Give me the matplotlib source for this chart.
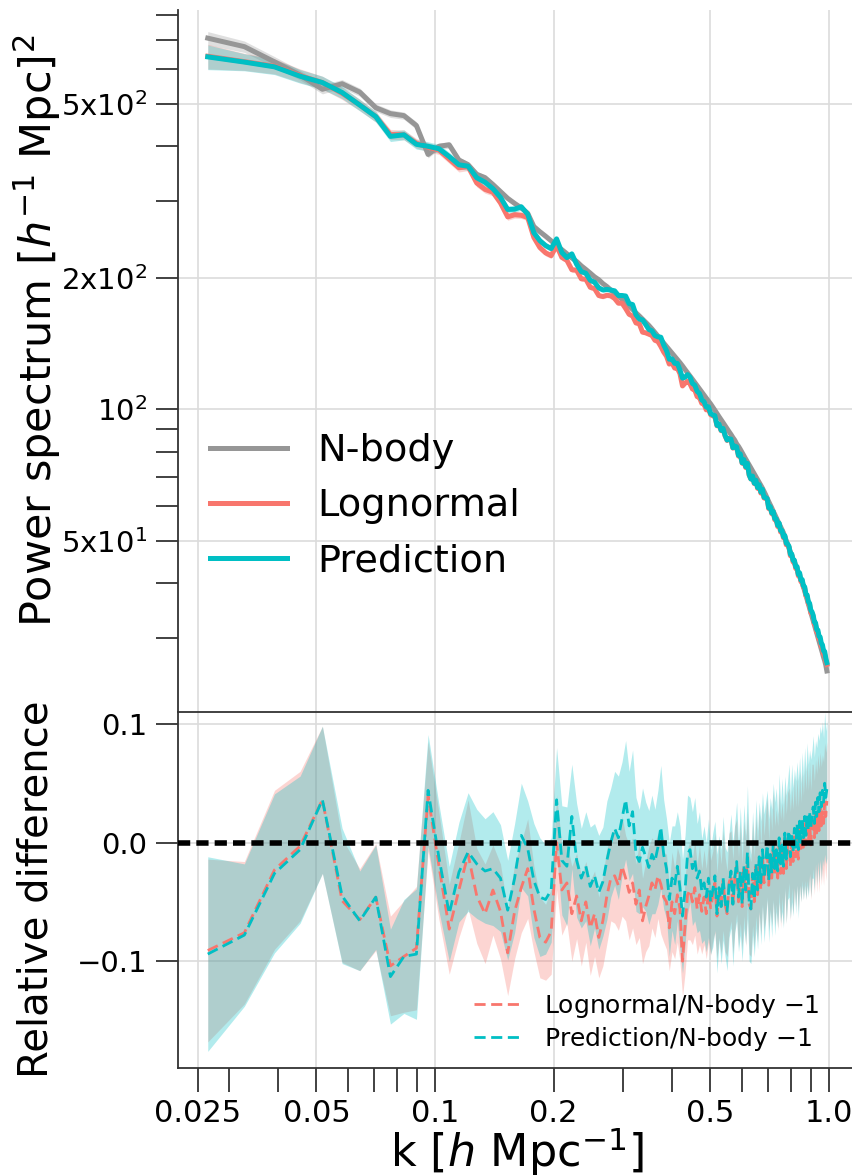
import numpy as np
import matplotlib
matplotlib.use("Agg")
import matplotlib.pyplot as plt
from matplotlib.ticker import FixedLocator, NullFormatter

# ---------------------------------------------------------------------------
# Data: power spectra in linear k bins and relative differences to N-body
# ---------------------------------------------------------------------------
K0, DK = 0.0265, 0.00632          # first bin centre and bin width [h/Mpc]

p_nbody = [
    707, 676, 624, 582, 540, 556, 532, 490, 475, 470, 446, 383, 400, 403, 372,
    363, 345, 339, 327, 315, 304, 296, 289, 281, 262,
    255, 249, 243, 237, 232, 227, 222, 218, 213, 209, 205, 201, 198, 194, 191,
    187.5, 184.5, 181.5, 178.6,
    175.4, 172.2, 169.3, 166.3, 163.6, 160.8, 158.2, 155.6, 152.8, 149.9,
    147.1, 144.4, 141.8, 139.3, 136.8, 134.5, 132.2, 130.0, 127.9, 125.7,
    123.4, 121.3, 119.2, 117.2, 115.2, 113.3, 111.4, 109.6, 107.8, 106.1,
    104.5, 102.9, 101.2, 99.5, 97.8, 96.2, 94.7, 93.2, 91.7, 90.3,
    88.9, 87.6, 86.2, 85.0,
    83.4, 82.3, 81.0, 79.6, 78.3, 77.0, 75.8, 74.6, 73.4, 72.3,
    71.2, 70.1, 69.0, 68.0, 67.0, 66.0,
    64.9, 63.8, 62.6, 61.5, 60.5, 59.5, 58.4, 57.5, 56.5, 55.6, 54.7, 53.8, 52.9,
    52.2, 51.0, 50.1, 49.1, 48.1, 47.2, 46.3, 45.5, 44.6, 43.8, 43.0, 42.2,
    41.5, 40.7, 40.0,
    39.3, 38.4, 37.5, 36.7, 35.9, 35.1, 34.3, 33.6, 32.8, 32.1, 31.4, 30.7,
    30.1, 29.5, 28.9, 28.3, 27.7, 27.1, 26.6, 26.0, 25.2,
]

# Prediction / N-body - 1
ratio_pred = [
    -0.094, -0.078, -0.026, -0.006, 0.036, -0.045, -0.066, -0.046, -0.113, -0.096,
    -0.094, 0.044, -0.013, -0.060, -0.025, -0.008,
    -0.018, -0.024, -0.022, -0.030, -0.057, -0.030, 0.006, -0.005, -0.032, -0.046, -0.048, -0.040,
    0.036, -0.015, -0.020, 0.022, -0.015, -0.030, -0.020, -0.037, -0.028, -0.042, -0.033, -0.015,
    0.000, 0.012, 0.004, 0.020, 0.036, 0.014, 0.026, -0.010, -0.016, -0.004, -0.012, -0.021,
    -0.010, -0.016, -0.004, 0.013, -0.010, -0.022, -0.048, -0.030, -0.036, -0.020, -0.038, -0.062,
    -0.040, -0.010, -0.006, -0.022, -0.014, -0.030, -0.024, -0.041, -0.034, -0.046, -0.030, -0.050,
    -0.040, -0.028, -0.060, -0.038, -0.054, -0.030, -0.050, -0.058, -0.036, -0.024, -0.052, -0.030,
    -0.016, -0.046, -0.024, -0.052, -0.020, -0.040, -0.008, -0.050, -0.056, -0.026, -0.048, -0.018,
    -0.040, -0.012, -0.034, -0.006, -0.030, -0.016, -0.002, -0.032, -0.010, -0.026, 0.000, -0.022,
    -0.006, -0.024, 0.004, -0.018, -0.002, -0.020, 0.008, -0.014, 0.002, 0.010, -0.012, 0.008,
    -0.008, 0.012, -0.004, 0.016, -0.006, 0.018, 0.000, 0.020, 0.004, 0.022, 0.006, 0.024,
    0.010, 0.026, 0.012, 0.024, 0.030, 0.016, 0.034, 0.022, 0.038, 0.026, 0.042, 0.030,
    0.044, 0.034, 0.050, 0.038, 0.045,
]

# Lognormal / N-body - 1
ratio_logn = [
    -0.091, -0.076, -0.023, -0.003, 0.036, -0.049, -0.065, -0.046, -0.104, -0.096,
    -0.089, 0.039, -0.020, -0.073, -0.040, -0.010,
    -0.045, -0.060, -0.040, -0.058, -0.093, -0.058, -0.038, -0.022, -0.056, -0.080, -0.084, -0.075,
    0.000, -0.040, -0.034, -0.060, -0.045, -0.066, -0.050, -0.072, -0.060, -0.080, -0.066, -0.045,
    -0.030, -0.028, -0.036, -0.020, -0.030, -0.042, -0.034, -0.052, -0.040, -0.066, -0.054, -0.045,
    -0.034, -0.040, -0.028, -0.035, -0.046, -0.050, -0.072, -0.050, -0.060, -0.044, -0.056, -0.100,
    -0.070, -0.044, -0.040, -0.050, -0.038, -0.056, -0.044, -0.058, -0.046, -0.060, -0.042, -0.055,
    -0.045, -0.034, -0.062, -0.040, -0.056, -0.032, -0.052, -0.060, -0.034, -0.028, -0.054, -0.030,
    -0.020, -0.050, -0.026, -0.054, -0.022, -0.044, -0.012, -0.052, -0.056, -0.026, -0.050, -0.020,
    -0.044, -0.016, -0.040, -0.010, -0.034, -0.020, -0.004, -0.036, -0.012, -0.030, -0.002, -0.028,
    -0.012, -0.030, 0.000, -0.026, -0.006, -0.026, 0.004, -0.022, -0.002, 0.006, -0.020, 0.004,
    -0.016, 0.008, -0.012, 0.010, -0.014, 0.012, -0.008, 0.014, -0.004, 0.016, -0.002, 0.018,
    0.000, 0.020, -0.002, 0.016, 0.022, 0.004, 0.024, 0.008, 0.026, 0.010, 0.030, 0.014,
    0.026, 0.016, 0.034, 0.022, 0.035,
]

# 1-sigma scatter of the ratios
sigma_pred = [
    0.082, 0.060, 0.067, 0.062, 0.062, 0.057, 0.042, 0.044, 0.040, 0.048,
    0.055, 0.047, 0.045, 0.040, 0.042, 0.050,
    0.046, 0.044, 0.048, 0.045, 0.042, 0.046, 0.044, 0.040, 0.048, 0.050, 0.046, 0.044,
    0.044, 0.046, 0.050, 0.044, 0.048, 0.042, 0.046, 0.050, 0.044, 0.048, 0.046, 0.050,
    0.046, 0.048, 0.052, 0.048, 0.050, 0.046, 0.052, 0.048, 0.044, 0.050, 0.046, 0.048,
    0.050, 0.044, 0.048, 0.052, 0.046, 0.042, 0.048, 0.044, 0.050, 0.046, 0.052, 0.048,
    0.046, 0.050, 0.044, 0.048, 0.052, 0.046, 0.050, 0.044, 0.048, 0.046, 0.050, 0.044,
    0.048, 0.046, 0.050, 0.044, 0.048, 0.052, 0.046, 0.050, 0.044, 0.048, 0.052, 0.046,
    0.050, 0.046, 0.054, 0.048, 0.052, 0.046, 0.056, 0.050, 0.046, 0.052, 0.048, 0.054,
    0.050, 0.046, 0.052, 0.048, 0.054, 0.050, 0.046, 0.052, 0.048, 0.054, 0.050, 0.056,
    0.052, 0.048, 0.054, 0.050, 0.056, 0.052, 0.048, 0.054, 0.050, 0.056, 0.052, 0.058,
    0.054, 0.050, 0.056, 0.052, 0.058, 0.054, 0.050, 0.056, 0.052, 0.058, 0.054, 0.060,
    0.056, 0.052, 0.058, 0.054, 0.060, 0.056, 0.052, 0.058, 0.054, 0.060, 0.056, 0.062,
    0.058, 0.054, 0.060, 0.056, 0.058,
]

sigma_logn = [
    0.077, 0.060, 0.067, 0.063, 0.062, 0.052, 0.043, 0.045, 0.042, 0.047,
    0.052, 0.046, 0.045, 0.038, 0.040, 0.046,
    0.040, 0.042, 0.038, 0.040, 0.036, 0.040, 0.038, 0.042, 0.036, 0.034, 0.032, 0.036,
    0.040, 0.038, 0.034, 0.040, 0.036, 0.038, 0.034, 0.040, 0.036, 0.034, 0.038, 0.040,
    0.036, 0.040, 0.038, 0.042, 0.036, 0.040, 0.038, 0.034, 0.040, 0.036, 0.038, 0.042,
    0.038, 0.040, 0.036, 0.042, 0.038, 0.040, 0.036, 0.042, 0.038, 0.040, 0.044, 0.030,
    0.040, 0.038, 0.042, 0.036, 0.040, 0.038, 0.042, 0.036, 0.040, 0.038, 0.042, 0.040,
    0.038, 0.042, 0.036, 0.040, 0.038, 0.042, 0.040, 0.036, 0.042, 0.038, 0.040, 0.044,
    0.040, 0.038, 0.042, 0.036, 0.040, 0.044, 0.038, 0.042, 0.040, 0.044, 0.038, 0.042,
    0.040, 0.044, 0.038, 0.042, 0.040, 0.044, 0.042, 0.038, 0.044, 0.040, 0.046, 0.042,
    0.040, 0.044, 0.042, 0.046, 0.040, 0.044, 0.042, 0.046, 0.044, 0.040, 0.046, 0.042,
    0.044, 0.048, 0.042, 0.046, 0.044, 0.048, 0.042, 0.046, 0.044, 0.048, 0.046, 0.050,
    0.044, 0.048, 0.046, 0.050, 0.044, 0.048, 0.046, 0.050, 0.048, 0.052, 0.046, 0.050,
    0.048, 0.052, 0.050, 0.054, 0.050,
]

# Fractional scatter of the spectra themselves (upper panel bands)
frac_err_nbody = [
    0.035, 0.030, 0.028, 0.025, 0.024, 0.022, 0.021, 0.020, 0.020, 0.019,
    0.020, 0.018, 0.017, 0.017, 0.016, 0.016,
    0.015, 0.015, 0.014, 0.014, 0.014, 0.013, 0.013, 0.013, 0.012, 0.012, 0.012, 0.012,
    0.011, 0.011, 0.011, 0.011, 0.011, 0.010, 0.010, 0.010, 0.010, 0.010, 0.010, 0.009,
    0.009, 0.009, 0.009, 0.009, 0.009, 0.009, 0.009, 0.008, 0.008, 0.008, 0.008, 0.008,
    0.008, 0.008, 0.008, 0.008, 0.008, 0.008, 0.007, 0.007, 0.007, 0.007, 0.007, 0.007,
    0.007, 0.007, 0.007, 0.007, 0.007, 0.007, 0.007, 0.007, 0.007, 0.007, 0.006, 0.006,
    0.006, 0.006, 0.006, 0.006, 0.006, 0.006, 0.006, 0.006, 0.006, 0.006, 0.006, 0.006,
    0.006, 0.006, 0.006, 0.006, 0.006, 0.006, 0.006, 0.006, 0.006, 0.006, 0.006, 0.006,
    0.006, 0.006, 0.006, 0.006, 0.006, 0.006, 0.005, 0.005, 0.005, 0.005, 0.005, 0.005,
    0.005, 0.005, 0.005, 0.005, 0.005, 0.005, 0.005, 0.005, 0.005, 0.005, 0.005, 0.005,
    0.005, 0.005, 0.005, 0.005, 0.005, 0.005, 0.005, 0.005, 0.005, 0.005, 0.005, 0.005,
    0.005, 0.005, 0.005, 0.005, 0.005, 0.005, 0.005, 0.005, 0.005, 0.005, 0.005, 0.005,
    0.005, 0.005, 0.005, 0.005, 0.005,
]

frac_err_model = [
    0.065, 0.045, 0.040, 0.036, 0.034, 0.032, 0.030, 0.028, 0.027, 0.026,
    0.025, 0.024, 0.023, 0.022, 0.022, 0.021,
    0.020, 0.020, 0.019, 0.019, 0.018, 0.018, 0.017, 0.017, 0.016, 0.016, 0.016, 0.015,
    0.015, 0.015, 0.014, 0.014, 0.014, 0.013, 0.013, 0.013, 0.013, 0.012, 0.012, 0.012,
    0.012, 0.012, 0.011, 0.011, 0.011, 0.011, 0.011, 0.011, 0.010, 0.010, 0.010, 0.010,
    0.010, 0.010, 0.010, 0.010, 0.009, 0.009, 0.009, 0.009, 0.009, 0.009, 0.009, 0.009,
    0.009, 0.009, 0.009, 0.009, 0.008, 0.008, 0.008, 0.008, 0.008, 0.008, 0.008, 0.008,
    0.008, 0.008, 0.008, 0.008, 0.008, 0.008, 0.008, 0.008, 0.008, 0.008, 0.008, 0.008,
    0.008, 0.008, 0.008, 0.008, 0.008, 0.008, 0.008, 0.008, 0.008, 0.008, 0.008, 0.008,
    0.008, 0.008, 0.008, 0.008, 0.008, 0.008, 0.008, 0.008, 0.008, 0.008, 0.008, 0.008,
    0.008, 0.008, 0.008, 0.008, 0.008, 0.008, 0.008, 0.008, 0.008, 0.008, 0.008, 0.008,
    0.008, 0.008, 0.008, 0.008, 0.008, 0.008, 0.008, 0.008, 0.008, 0.008, 0.008, 0.008,
    0.008, 0.008, 0.008, 0.008, 0.008, 0.008, 0.008, 0.008, 0.008, 0.008, 0.008, 0.008,
    0.008, 0.008, 0.008, 0.008, 0.008,
]

series_labels = ["N-body", "Lognormal", "Prediction"]
ratio_labels = ["Lognormal/N-body $-1$", "Prediction/N-body $-1$"]

x_major_ticks = [0.025, 0.05, 0.1, 0.2, 0.5, 1.0]
x_major_labels = ["0.025", "0.05", "0.1", "0.2", "0.5", "1.0"]
x_minor_ticks = [0.03, 0.04, 0.06, 0.07, 0.08, 0.09, 0.3, 0.4, 0.6, 0.7, 0.8, 0.9]
y_major_ticks = [50, 100, 200, 500]
y_major_labels = ["5x$10^1$", "$10^2$", "2x$10^2$", "5x$10^2$"]
y_minor_ticks = [30, 40, 60, 70, 80, 90, 300, 400, 600, 700, 800]
diff_ticks = [-0.1, 0.0, 0.1]

# ---------------------------------------------------------------------------
GRAY, RED, CYAN = "#969696", "#F8766D", "#00BFC4"
SPINE = "#333333"

k = K0 + DK * np.arange(len(p_nbody))
p_nbody = np.asarray(p_nbody)
ratio_pred = np.asarray(ratio_pred)
ratio_logn = np.asarray(ratio_logn)
sigma_pred = np.asarray(sigma_pred)
sigma_logn = np.asarray(sigma_logn)
frac_err_nbody = np.asarray(frac_err_nbody)
frac_err_model = np.asarray(frac_err_model)

p_logn = p_nbody * (1 + ratio_logn)
p_pred = p_nbody * (1 + ratio_pred)

W, H = 853, 1176
fig = plt.figure(figsize=(W / 100, H / 100), dpi=100)
left = 178 / W
ax1 = fig.add_axes([left, 1 - 712 / H, 1 - left, (712 - 10) / H])
ax2 = fig.add_axes([left, 1 - 1068 / H, 1 - left, (1068 - 712) / H], sharex=ax1)

# --- upper panel: spectra ---
ax1.set_xscale("log")
ax1.set_yscale("log")
ax1.fill_between(k, p_nbody * (1 - frac_err_nbody), p_nbody * (1 + frac_err_nbody),
                 color=GRAY, alpha=0.3, lw=0)
ax1.fill_between(k, p_logn * (1 - frac_err_model), p_logn * (1 + frac_err_model),
                 color=RED, alpha=0.3, lw=0)
ax1.fill_between(k, p_pred * (1 - frac_err_model), p_pred * (1 + frac_err_model),
                 color=CYAN, alpha=0.3, lw=0)
ax1.plot(k, p_nbody, color=GRAY, lw=3.6, label=series_labels[0])
ax1.plot(k, p_logn, color=RED, lw=3.6, label=series_labels[1])
ax1.plot(k, p_pred, color=CYAN, lw=3.6, label=series_labels[2])

ax1.set_xlim(0.02227, 1.15)
ax1.set_ylim(20.3, 820)
ax1.set_yticks(y_major_ticks, labels=y_major_labels)
ax1.yaxis.set_minor_locator(FixedLocator(y_minor_ticks))
ax1.yaxis.set_minor_formatter(NullFormatter())

# --- lower panel: relative differences ---
ax2.fill_between(k, ratio_logn - sigma_logn, ratio_logn + sigma_logn,
                 color=RED, alpha=0.3, lw=0)
ax2.fill_between(k, ratio_pred - sigma_pred, ratio_pred + sigma_pred,
                 color=CYAN, alpha=0.3, lw=0)
ax2.plot(k, ratio_logn, color=RED, lw=2, ls=(0, (4, 2)), label=ratio_labels[0])
ax2.plot(k, ratio_pred, color=CYAN, lw=2, ls=(0, (4, 2)), label=ratio_labels[1])
ax2.axhline(0.0, color="black", lw=4, ls=(0, (2.2, 1.1)), zorder=4)
ax2.set_ylim(-0.19, 0.11)
ax2.set_yticks(diff_ticks)

ax2.set_xticks(x_major_ticks, labels=x_major_labels)
ax2.xaxis.set_minor_locator(FixedLocator(x_minor_ticks))
ax2.xaxis.set_minor_formatter(NullFormatter())

for ax in (ax1, ax2):
    ax.grid(True, which="major", color="#dcdcdc", lw=1.2)
    ax.set_axisbelow(True)
    ax.spines["right"].set_visible(False)
    for s in ax.spines.values():
        s.set_color(SPINE)
        s.set_linewidth(1.3)
    ax.tick_params(axis="y", which="both", length=16, width=1.3, color=SPINE,
                   labelsize=21, pad=6, labelcolor="black")
ax1.spines["top"].set_visible(False)
ax1.spines["bottom"].set_visible(False)
ax1.tick_params(axis="x", which="both", bottom=False, labelbottom=False)
ax2.tick_params(axis="x", which="both", length=17, width=1.3, color=SPINE,
                labelsize=22, pad=5, labelcolor="black")

ax1.legend(loc="upper left", bbox_to_anchor=(-0.003, 0.446), fontsize=27.5,
           frameon=False, handlelength=2.0, labelspacing=0.5, handletextpad=0.8)
ax2.legend(loc="lower right", bbox_to_anchor=(0.984, -0.02), fontsize=18,
           frameon=False, handlelength=2.0, labelspacing=0.2, handletextpad=0.8)

fig.text(37 / W, 1 - 331 / H, r"Power spectrum [$h^{-1}$ Mpc]$^2$", rotation=90,
         ha="center", va="center", fontsize=31)
fig.text(37 / W, 1 - 889 / H, "Relative difference", rotation=90,
         ha="center", va="center", fontsize=29)
fig.text(517 / W, 1 - 1167 / H, r"k [$h$ Mpc$^{-1}$]", ha="center", va="baseline",
         fontsize=32)

fig.savefig("out.png", dpi=100)
